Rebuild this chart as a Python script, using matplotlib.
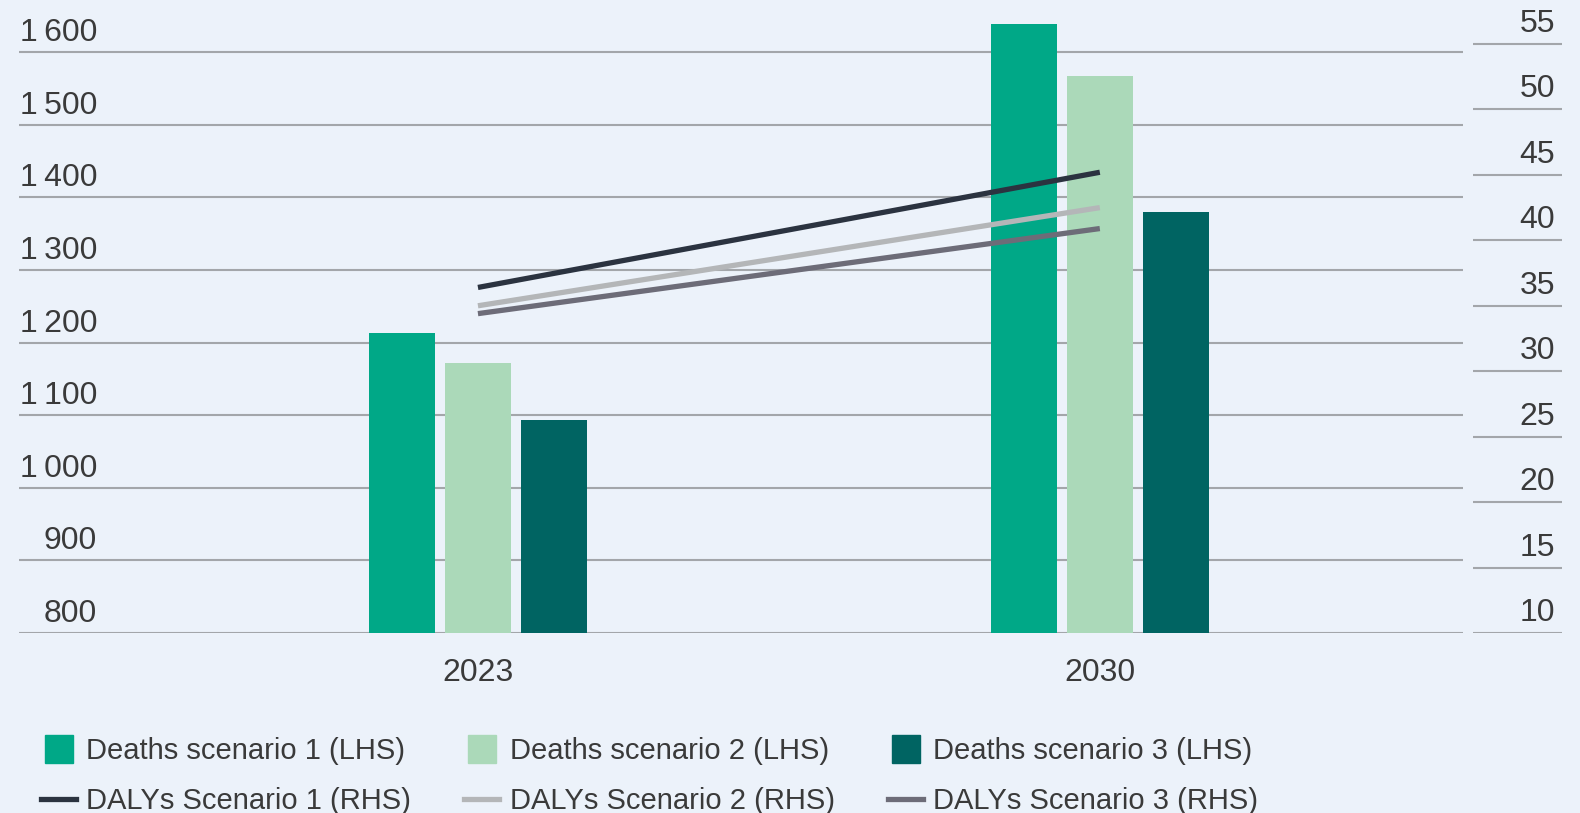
import matplotlib
matplotlib.use("Agg")
import matplotlib.pyplot as plt
import matplotlib.transforms as mtransforms
from matplotlib.lines import Line2D

# data
years = ["2023", "2030"]
deaths_s1 = [1213, 1639]
deaths_s2 = [1172, 1567]
deaths_s3 = [1093, 1380]
dalys_s1 = [36.4, 45.2]
dalys_s2 = [35.0, 42.5]
dalys_s3 = [34.4, 40.9]

left_ticks = [800, 900, 1000, 1100, 1200, 1300, 1400, 1500, 1600]
right_ticks = [10, 15, 20, 25, 30, 35, 40, 45, 50, 55]

bar_colors = ["#00A887", "#ABD9B9", "#006462"]
line_colors = ["#2B3340", "#B4B6B8", "#6D6C78"]
bg = "#ECF2FA"
grid_c = "#A3A6AA"
text_c = "#3A3A3A"

plt.rcParams["font.family"] = ["Liberation Sans", "DejaVu Sans"]

W, H = 1580, 813
fig = plt.figure(figsize=(W / 100, H / 100), dpi=100, facecolor=bg)

ax_bottom = 1 - 633 / H
ax_top = 1 - 20 / H
ax = fig.add_axes([19 / W, ax_bottom, (1463 - 19) / W, ax_top - ax_bottom])
ax.set_facecolor(bg)
ax.set_xlim(-0.738, 1.584)
ax.set_ylim(800, 800 + 613 / 0.72625)

x = range(len(years))
bw = 0.106
step = 0.122
for i, (vals, c) in enumerate(zip([deaths_s1, deaths_s2, deaths_s3], bar_colors)):
    ax.bar([xi + (i - 1) * step for xi in x], [v - 800 for v in vals], bottom=800,
           width=bw, color=c, zorder=3)

for t in left_ticks:
    ax.axhline(t, color=grid_c, lw=1.5, zorder=1)
    off = mtransforms.offset_copy(ax.transData, fig=fig, x=0, y=11, units="dots")
    tr = mtransforms.blended_transform_factory(fig.transFigure, off)
    ax.text(97 / W, t, f"{t:,}".replace(",", "\u2009"), transform=tr, ha="right",
            va="baseline", fontsize=23, color=text_c)

ax.set_xticks(list(x))
ax.set_xticklabels(years, fontsize=23, color=text_c)
ax.tick_params(axis="x", length=0, pad=18)
ax.set_yticks([])
for s in ax.spines.values():
    s.set_visible(False)

# lines on the right-hand scale
rmax = 10 + 613 / (589 / 45)
ax2 = ax.twinx()
ax2.set_ylim(10, rmax)
ax2.axis("off")
for vals, c in zip([dalys_s1, dalys_s2, dalys_s3], line_colors):
    ax2.plot(list(x), vals, color=c, lw=3.8, solid_capstyle="butt", zorder=4)

# short gridlines + labels on the right
axr = fig.add_axes([1473 / W, ax_bottom, (1562 - 1473) / W, ax_top - ax_bottom])
axr.set_ylim(10, rmax)
axr.set_xlim(0, 1)
axr.axis("off")
for t in right_ticks:
    axr.axhline(t, color=grid_c, lw=1.5)
    off = mtransforms.offset_copy(axr.transData, fig=fig, x=0, y=12, units="dots")
    tr = mtransforms.blended_transform_factory(fig.transFigure, off)
    axr.text(1555 / W, t, str(t), transform=tr, ha="right", va="baseline",
             fontsize=23, color=text_c)

labels = ["Deaths scenario 1 (LHS)", "DALYs Scenario 1 (RHS)",
          "Deaths scenario 2 (LHS)", "DALYs Scenario 2 (RHS)",
          "Deaths scenario 3 (LHS)", "DALYs Scenario 3 (RHS)"]
handles = []
for bc, lc in zip(bar_colors, line_colors):
    handles.append(Line2D([], [], color=bc, marker="s", markersize=19.5, linestyle="none"))
    handles.append(Line2D([], [], color=lc, lw=3.8))
fig.legend(handles, labels, ncol=3, loc="upper left", bbox_to_anchor=(41 / W, 1 - 737 / H),
           frameon=False, fontsize=21, labelcolor=text_c, handlelength=1.2,
           handletextpad=0.35, columnspacing=1.83, borderpad=0, borderaxespad=0,
           labelspacing=0.75)

fig.savefig("out.png", dpi=100, facecolor=bg)
